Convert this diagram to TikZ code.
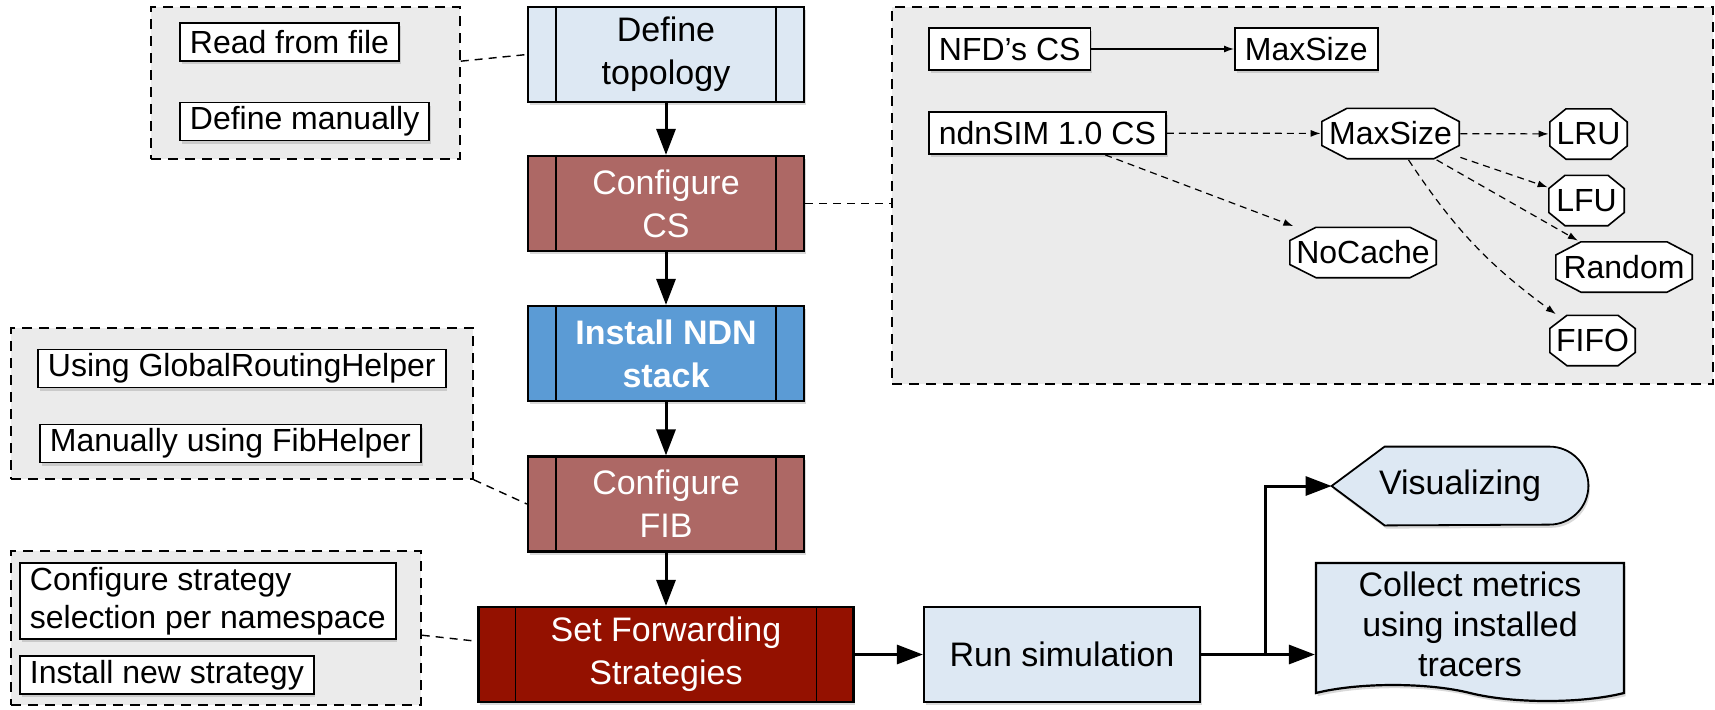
\documentclass[tikz,border=0pt]{standalone}
\usepackage{fontspec}
\setmainfont{Liberation Sans}
\usetikzlibrary{arrows.meta,shapes.symbols,shadows,backgrounds}

\definecolor{paleblue}{HTML}{DDE8F3}
\definecolor{rosebrown}{HTML}{AD6865}
\definecolor{ndnblue}{HTML}{5B9BD5}
\definecolor{darkred}{HTML}{941100}
\definecolor{groupgray}{HTML}{EBEBEB}

\newcommand\procfont{\fontsize{17pt}{21.5pt}\selectfont}
\newcommand\optfont{\fontsize{16pt}{19pt}\selectfont}

\tikzstyle{softshadow}=[
	drop shadow={shadow xshift=.8pt, shadow yshift=-1.6pt, opacity=.3}
]
\tikzstyle{group}=[
	rectangle,
	draw,
	dash pattern=on 5pt off 3.5pt,
	line width=.75pt,
	fill=groupgray,
	inner sep=0pt
]
\tikzstyle{option}=[
	rectangle,
	draw,
	line width=.9pt,
	fill=white,
	font=\optfont,
	inner xsep=5pt,
	inner ysep=0pt,
	minimum height=19pt,
	softshadow
]
\tikzstyle{task}=[
	rectangle,
	draw,
	line width=1.1pt,
	fill=paleblue,
	font=\procfont,
	align=center,
	minimum width=138pt,
	minimum height=47.5pt,
	inner sep=0pt,
	softshadow
]
\tikzset{
	process/.style={
		task,
		append after command={\pgfextra{\let\procnode\tikzlastnode}
			([xshift=#1]\procnode.north west) edge[line width=.7pt] ([xshift=#1]\procnode.south west)
			([xshift=-#1]\procnode.north east) edge[line width=.7pt] ([xshift=-#1]\procnode.south east)}
	},
	process/.default=14.5pt,
	policy/.style 2 args={
		rectangle,
		fill=groupgray,
		font=\optfont,
		inner sep=0pt,
		minimum width=#1,
		minimum height=26pt,
		path picture={
			\draw [fill=white, line width=.8pt]
				([xshift=#2, yshift=-.4pt]path picture bounding box.north west)
				-- ([xshift=-#2, yshift=-.4pt]path picture bounding box.north east)
				-- ([xshift=-.4pt, yshift=-7pt]path picture bounding box.north east)
				-- ([xshift=-.4pt, yshift=7pt]path picture bounding box.south east)
				-- ([xshift=-#2, yshift=.4pt]path picture bounding box.south east)
				-- ([xshift=#2, yshift=.4pt]path picture bounding box.south west)
				-- ([xshift=.4pt, yshift=7pt]path picture bounding box.south west)
				-- ([xshift=.4pt, yshift=-7pt]path picture bounding box.north west) -- cycle;
		}
	}
}
\tikzstyle{flow}=[
	->,
	>={Triangle[length=13pt,width=9.5pt]},
	line width=1.5pt
]
\tikzstyle{choice}=[
	->,
	>={Latex[length=5pt,width=3.5pt]},
	dash pattern=on 3.5pt off 2.5pt,
	line width=.6pt
]
\tikzstyle{attach}=[
	dash pattern=on 4pt off 3pt,
	line width=.7pt
]

\begin{document}
\begin{tikzpicture}[x=0.5pt,y=-0.5pt]
\useasboundingbox (0,0) rectangle (1715,709);

% dashed option groups
\node [group, minimum width=154.5pt, minimum height=76pt] (topogrp) at (305.5,83) {};
\node [group, minimum width=410.5pt, minimum height=188.5pt] (csgrp) at (1302.5,195.5) {};
\node [group, minimum width=231pt, minimum height=75.5pt] (fibgrp) at (242,403.5) {};
\node [group, minimum width=205pt, minimum height=77pt] (fwdgrp) at (216,628) {};

% main steps
\node [process] (topo) at (666,54.5) {Define\\topology};
\node [process, fill=rosebrown, text=white] (cs) at (666,203.5) {Configure\\CS};
\node [process, fill=ndnblue, text=white, font=\procfont\bfseries] (ndn) at (666,353.5) {Install NDN\\stack};
\node [process, fill=rosebrown, text=white] (fib) at (666,504) {Configure\\FIB};
\node [process=19pt, fill=darkred, text=white, minimum width=187.5pt] (fwd) at (666,654.5) {Set Forwarding\\Strategies};
\node [task] (run) at (1062,654.5) {Run simulation};
\node [task, tape, tape bend top=none, tape bend bottom=out and in, tape bend height=8pt,
	minimum width=154pt, minimum height=69pt, font=\fontsize{17pt}{20pt}\selectfont] (collect) at (1470,624) {Collect metrics\\using installed\\tracers};
\node [font=\procfont, minimum width=128pt, minimum height=39pt, inner sep=0pt] (vis) at (1460,486) {Visualizing};
\begin{scope}[on background layer]
\draw [fill=paleblue, line width=.9pt, softshadow] (vis.west) -- ([xshift=26.5pt]vis.north west)
	-- ([xshift=-19.5pt]vis.north east) arc[start angle=90, end angle=-90, radius=19.5pt]
	-- ([xshift=26.5pt]vis.south west) -- cycle;
\end{scope}

% topology options
\node [option, anchor=west] (readfile) at (179,42) {Read from file};
\node [option, anchor=west] (defman) at (179,121.5) {Define manually};

% content store options
\node [option, anchor=west, minimum height=21pt] (nfdcs) at (928,49) {NFD’s CS};
\node [option, anchor=west, minimum height=21pt] (nfdmax) at (1234,49) {MaxSize};
\node [option, anchor=west, minimum height=21pt] (ndnsim) at (928,133) {ndnSIM 1.0 CS};
\node [policy={69.5pt}{13pt}] (maxoct) at (1390.5,133.5) {MaxSize};
\node [policy={39.5pt}{8.5pt}] (lru) at (1588.5,134) {LRU};
\node [policy={38.5pt}{8.5pt}] (lfu) at (1586.5,200.5) {LFU};
\node [policy={74pt}{13.5pt}] (nocache) at (1363,252.5) {NoCache};
\node [policy={69pt}{13pt}] (random) at (1624,267) {Random};
\node [policy={43.5pt}{9pt}] (fifo) at (1592.5,340.5) {FIFO};

% FIB options
\node [option, anchor=west] (globrh) at (37,368.5) {Using GlobalRoutingHelper};
\node [option, anchor=west] (fibh) at (39,443.5) {Manually using FibHelper};

% strategy options
\node [option, anchor=west, align=left, minimum height=38pt] (cfgstrat) at (19,601) {Configure strategy\\selection per namespace};
\node [option, anchor=west] (newstrat) at (19,675) {Install new strategy};

% connectors
\draw [flow] (topo) -- (cs);
\draw [flow] (cs) -- (ndn);
\draw [flow] (ndn) -- (fib);
\draw [flow] (fib) -- (fwd);
\draw [flow] (fwd) -- (run);
\coordinate (split) at (1265,654.5);
\draw [flow] (run.east) -- (run.east -| collect.west);
\draw [flow] (split) |- (vis.west);

\draw [attach] (topogrp.8) -- (topo.west);
\draw [attach] (cs.east) -- (cs.east -| csgrp.west);
\draw [attach] (fibgrp.south east) -- (fib.west);
\draw [attach] (fwdgrp.-2) -- (fwd.176);

\draw [->, >={Latex[length=5pt,width=3.5pt]}, line width=.6pt] (nfdcs) -- (nfdmax);
\draw [choice] (ndnsim) -- (maxoct);
\draw [choice] (ndnsim) -- (nocache);
\draw [choice] (maxoct) -- (lru);
\draw [choice] (maxoct) -- (lfu);
\draw [choice] (maxoct) -- (random);
\draw [choice] (maxoct) to[bend right=10] (fifo);
\end{tikzpicture}
\end{document}
